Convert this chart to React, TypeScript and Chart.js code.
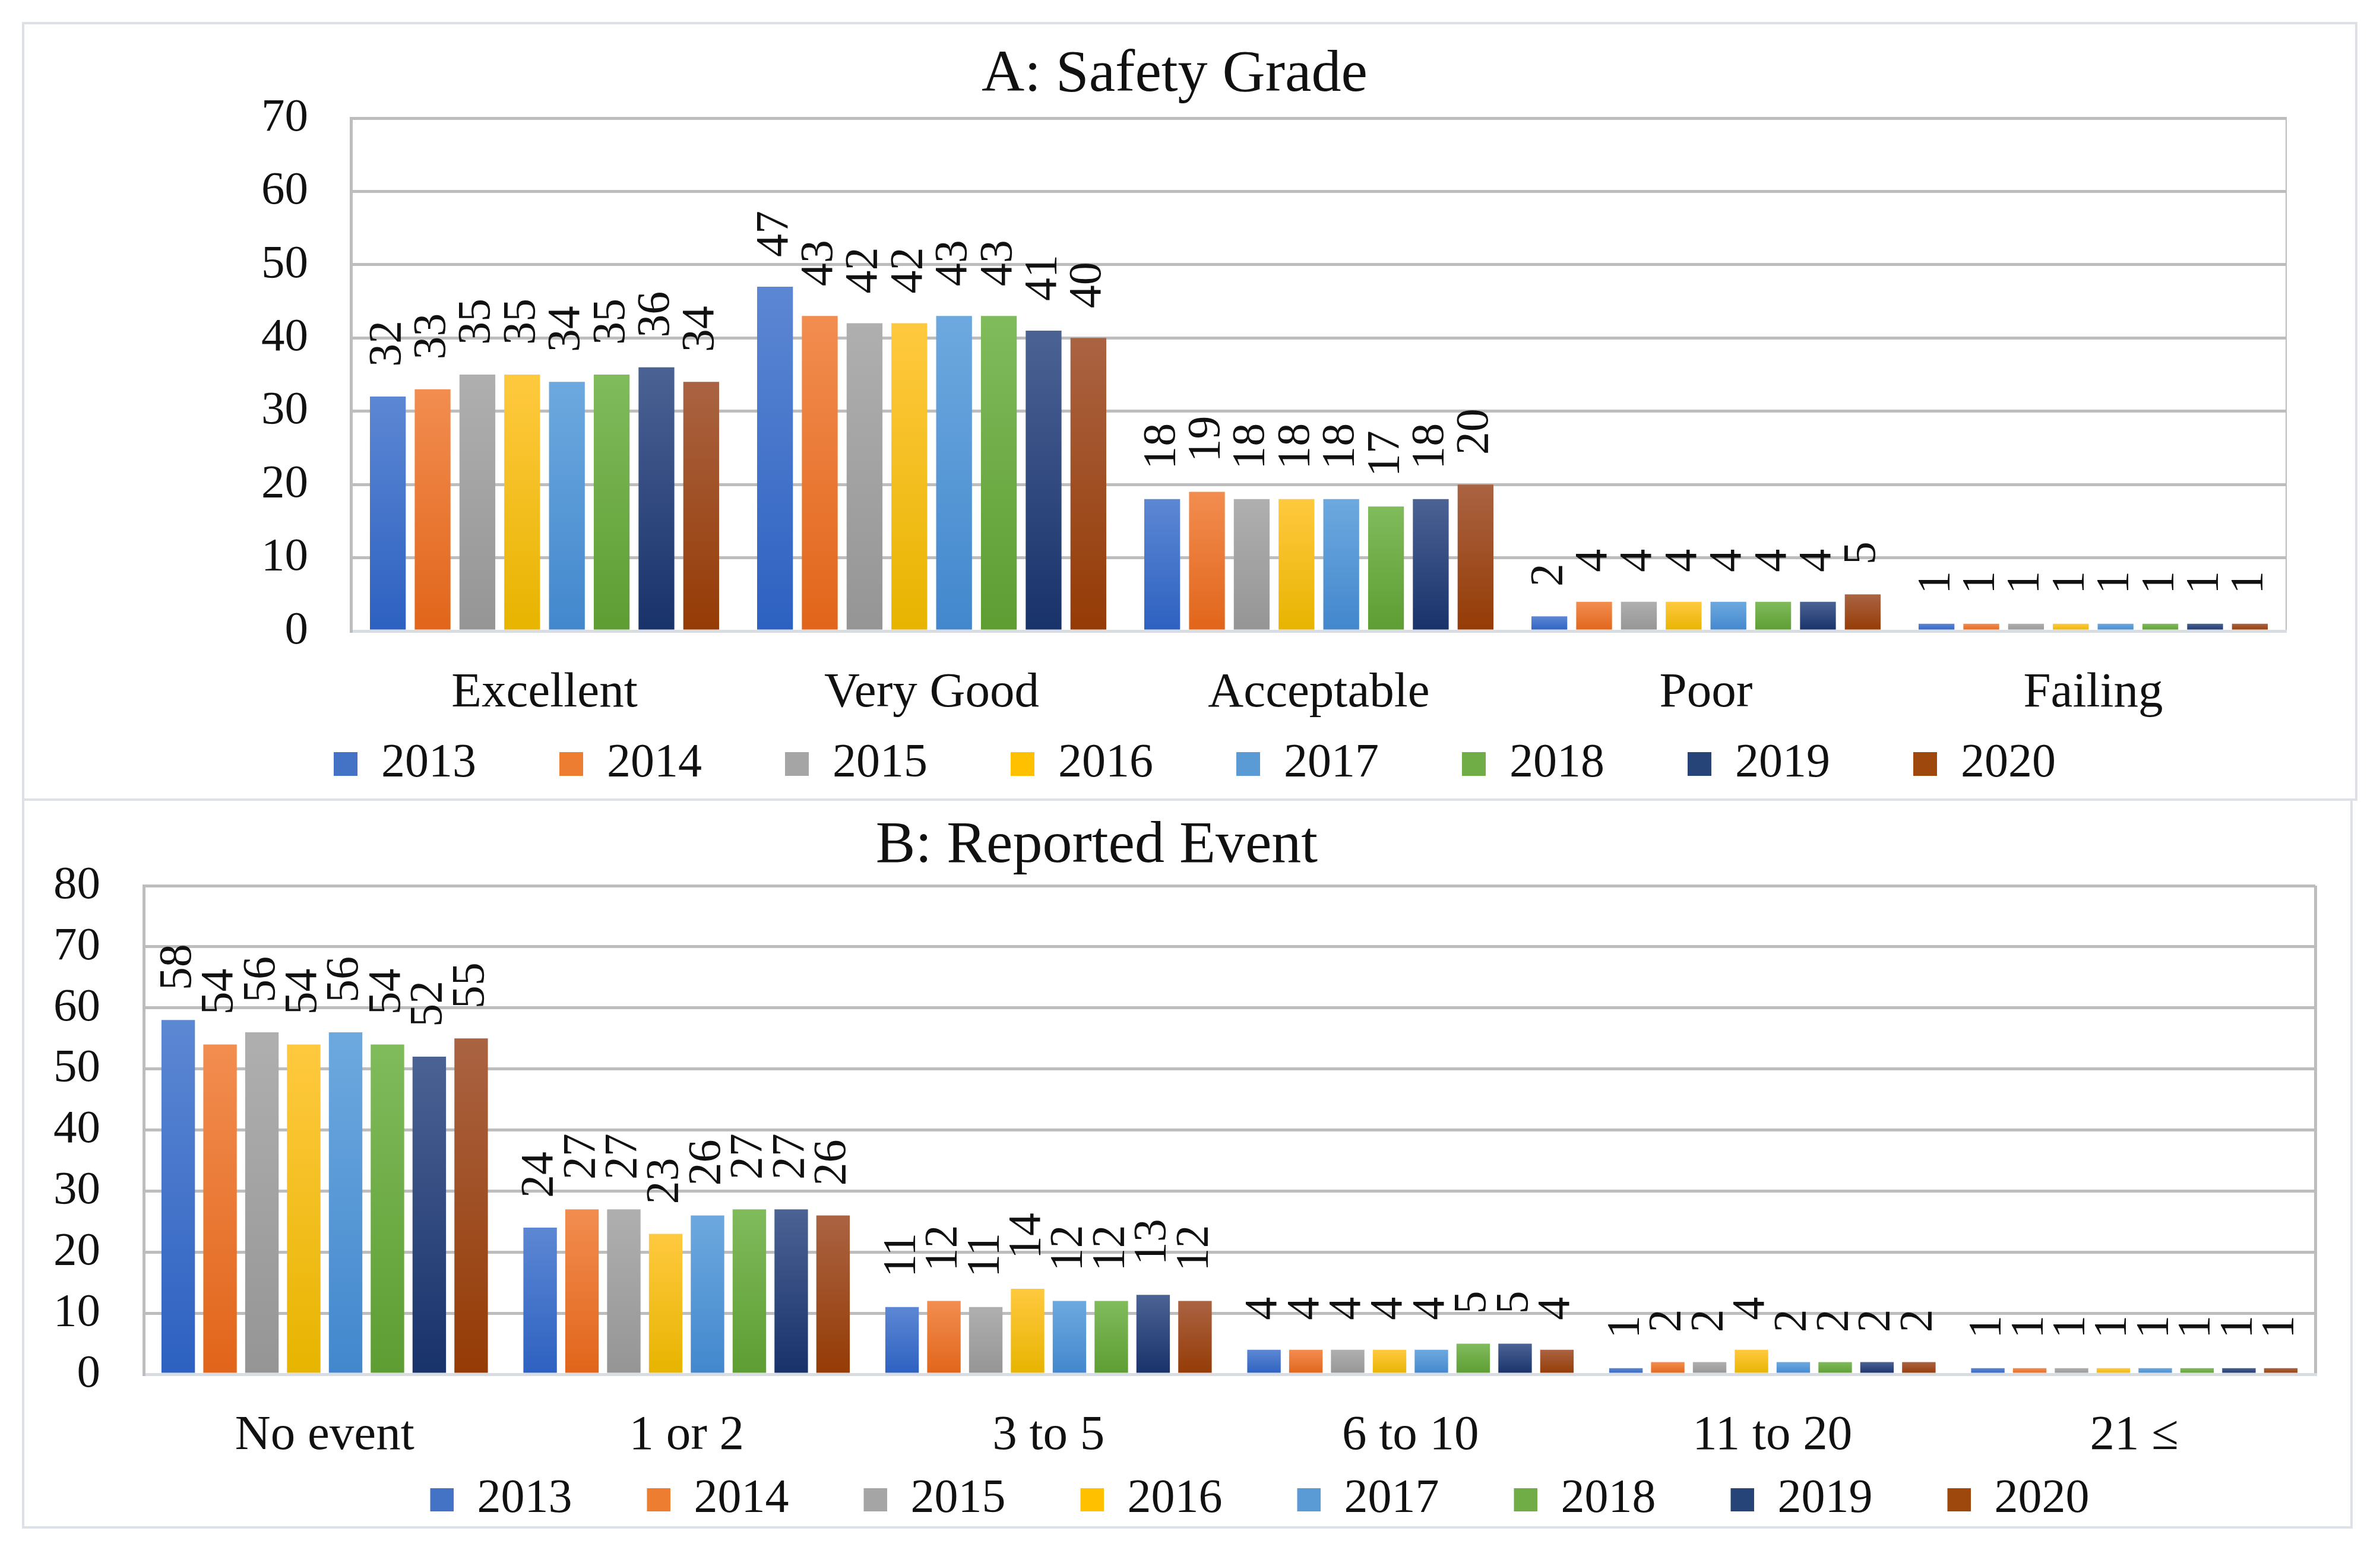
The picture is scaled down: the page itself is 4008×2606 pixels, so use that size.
import React, { useEffect, useRef } from "react";
import { Chart, registerables } from "chart.js";

Chart.register(...registerables);

// ---------- data ----------
const years = ["2013", "2014", "2015", "2016", "2017", "2018", "2019", "2020"];

const safetyCategories = ["Excellent", "Very Good", "Acceptable", "Poor", "Failing"];
const safety2013 = [32, 47, 18, 2, 1];
const safety2014 = [33, 43, 19, 4, 1];
const safety2015 = [35, 42, 18, 4, 1];
const safety2016 = [35, 42, 18, 4, 1];
const safety2017 = [34, 43, 18, 4, 1];
const safety2018 = [35, 43, 17, 4, 1];
const safety2019 = [36, 41, 18, 4, 1];
const safety2020 = [34, 40, 20, 5, 1];
const safetySeries = [safety2013, safety2014, safety2015, safety2016, safety2017, safety2018, safety2019, safety2020];
const safetyMax = 70;
const safetyStep = 10;

const eventCategories = ["No event", "1 or 2", "3 to 5", "6 to 10", "11 to 20", "21 \u2264"];
const event2013 = [58, 24, 11, 4, 1, 1];
const event2014 = [54, 27, 12, 4, 2, 1];
const event2015 = [56, 27, 11, 4, 2, 1];
const event2016 = [54, 23, 14, 4, 4, 1];
const event2017 = [56, 26, 12, 4, 2, 1];
const event2018 = [54, 27, 12, 5, 2, 1];
const event2019 = [52, 27, 13, 5, 2, 1];
const event2020 = [55, 26, 12, 4, 2, 1];
const eventSeries = [event2013, event2014, event2015, event2016, event2017, event2018, event2019, event2020];
const eventMax = 80;
const eventStep = 10;

// ---------- styles ----------
const FONT = '"Liberation Serif", "Times New Roman", serif';
const TEXT = "#111111";
const GRID = "#bdbdbd";
const AXIS = "#d8dce3";
const BORDER = "#dde1e7";

const baseColors = ["#4472C4", "#ED7D31", "#A5A5A5", "#FFC000", "#5B9BD5", "#70AD47", "#264478", "#9E480E"];
const lightColors = ["#5C87D3", "#F28D50", "#AFAFAF", "#FFC93F", "#6DA9DF", "#80BB5C", "#4B6294", "#AA6342"];
const darkColors = ["#2D61C1", "#E1651A", "#959595", "#E7B400", "#4287CD", "#5D9D32", "#18326A", "#953B05"];

function barFill(i: number) {
  return (c: any) => {
    const base = baseColors[i];
    if (!c || c.type !== "data") return base;
    const chart = c.chart;
    const y = chart.scales && chart.scales.y;
    if (!chart.chartArea || !y) return base;
    const top = y.getPixelForValue(c.raw);
    const bottom = y.getPixelForValue(0);
    if (!isFinite(top) || !isFinite(bottom) || Math.abs(bottom - top) < 1) return base;
    const g = chart.ctx.createLinearGradient(0, top, 0, bottom);
    g.addColorStop(0, lightColors[i]);
    g.addColorStop(1, darkColors[i]);
    return g;
  };
}

// legend marker: a square at the right end of a transparent strip
function legendMarker(color: string, stripWidth: number, box: number) {
  const cv = document.createElement("canvas");
  cv.width = stripWidth;
  cv.height = box;
  const cx = cv.getContext("2d");
  if (cx) {
    cx.fillStyle = color;
    cx.fillRect(stripWidth - box, 0, box, box);
  }
  return cv;
}

const valueLabelPlugin = {
  id: "valueLabels",
  afterDatasetsDraw(chart: any, _args: any, opts: any) {
    const ctx = chart.ctx;
    ctx.save();
    ctx.font = `${opts.size}px ${FONT}`;
    ctx.fillStyle = opts.color;
    ctx.textAlign = "left";
    ctx.textBaseline = "middle";
    chart.data.datasets.forEach((ds: any, i: number) => {
      const meta = chart.getDatasetMeta(i);
      if (meta.hidden) return;
      meta.data.forEach((bar: any, j: number) => {
        const v = ds.data[j];
        ctx.save();
        ctx.translate(bar.x, bar.y - opts.offset);
        ctx.rotate(-Math.PI / 2);
        ctx.fillText(String(v), 0, 0);
        ctx.restore();
      });
    });
    ctx.restore();
  },
};

const panelTitlePlugin = {
  id: "panelTitle",
  afterDraw(chart: any, _args: any, opts: any) {
    const ctx = chart.ctx;
    ctx.save();
    ctx.font = `${opts.size}px ${FONT}`;
    ctx.fillStyle = TEXT;
    ctx.textAlign = "center";
    ctx.textBaseline = "alphabetic";
    ctx.fillText(opts.text, opts.x, opts.y);
    ctx.restore();
  },
};

type PanelGeom = {
  left: number;
  top: number;
  width: number;
  height: number;
  canvasW: number;
  canvasH: number;
  padTop: number;
  padBottom: number;
  yWidth: number;
  yPad: number;
  y2Width: number;
  xHeight: number;
  xPad: number;
  legendStrip: number;
  legendBox: number;
  legendPad: number;
  legendMaxH?: number;
  titleX: number;
  titleY: number;
};

function BarPanel(props: {
  title: string;
  categories: string[];
  series: number[][];
  max: number;
  step: number;
  g: PanelGeom;
}) {
  const ref = useRef<HTMLCanvasElement | null>(null);
  const { title, categories, series, max, step, g } = props;

  useEffect(() => {
    if (!ref.current) return;
    const markers = baseColors.map((c) => legendMarker(c, g.legendStrip, g.legendBox));
    const datasets = years.map((yr, i) => ({
      label: yr,
      data: series[i],
      backgroundColor: barFill(i),
      borderWidth: 0,
      categoryPercentage: 0.925,
      barPercentage: 0.8,
    }));
    const legendOpts: any = {
      display: true,
      position: "bottom",
      labels: {
        color: TEXT,
        font: { family: FONT, size: 80 },
        usePointStyle: true,
        pointStyleWidth: g.legendStrip,
        boxHeight: g.legendBox,
        padding: g.legendPad,
        generateLabels: (chart: any) =>
          chart.data.datasets.map((ds: any, i: number) => ({
            text: ds.label,
            fillStyle: baseColors[i],
            strokeStyle: baseColors[i],
            lineWidth: 0,
            hidden: false,
            datasetIndex: i,
            pointStyle: markers[i],
            fontColor: TEXT,
          })),
      },
    };
    if (g.legendMaxH) legendOpts.maxHeight = g.legendMaxH;

    const chart = new Chart(ref.current, {
      type: "bar",
      data: { labels: categories, datasets },
      plugins: [valueLabelPlugin, panelTitlePlugin],
      options: {
        responsive: false,
        animation: false,
        devicePixelRatio: 1,
        events: [],
        layout: { padding: { left: 0, right: 0, top: g.padTop, bottom: g.padBottom } },
        scales: {
          x: {
            type: "category",
            offset: true,
            grid: {
              display: true,
              drawTicks: false,
              offset: true,
              lineWidth: 5,
              color: (c: any) => (c.tick ? "transparent" : GRID),
            },
            border: { display: true, color: AXIS, width: 5 },
            ticks: {
              color: TEXT,
              font: { family: FONT, size: 83 },
              padding: g.xPad,
              maxRotation: 0,
              autoSkip: false,
            },
            afterFit: (s: any) => {
              s.height = g.xHeight;
            },
          },
          y: {
            type: "linear",
            position: "left",
            min: 0,
            max: max,
            grid: {
              display: true,
              drawTicks: false,
              lineWidth: 5,
              color: (c: any) => (c.tick && c.tick.value === 0 ? "transparent" : GRID),
            },
            border: { display: true, color: GRID, width: 5 },
            ticks: {
              stepSize: step,
              color: TEXT,
              font: { family: FONT, size: 79 },
              padding: g.yPad,
            },
            afterFit: (s: any) => {
              s.width = g.yWidth;
            },
          },
          y2: {
            type: "linear",
            position: "right",
            display: true,
            grid: { display: false },
            border: { display: false },
            ticks: { display: false },
            afterFit: (s: any) => {
              s.width = g.y2Width;
            },
          },
        },
        plugins: {
          legend: legendOpts,
          title: { display: false },
          tooltip: { enabled: false },
          valueLabels: { size: 78, color: TEXT, offset: 50 },
          panelTitle: { text: title, size: 100, x: g.titleX, y: g.titleY },
        } as any,
      } as any,
    });
    return () => chart.destroy();
  }, []);

  return (
    <div
      style={{
        position: "absolute",
        left: g.left,
        top: g.top,
        width: g.width,
        height: g.height,
        border: `4px solid ${BORDER}`,
        boxSizing: "border-box",
        overflow: "hidden",
        background: "#ffffff",
      }}
    >
      <canvas
        ref={ref}
        width={g.canvasW}
        height={g.canvasH}
        style={{ display: "block", width: g.canvasW, height: g.canvasH }}
      />
    </div>
  );
}

const geomA: PanelGeom = {
  left: 37,
  top: 37,
  width: 3933,
  height: 1312,
  canvasW: 3810,
  canvasH: 1304,
  padTop: 158,
  padBottom: 8,
  yWidth: 550,
  yPad: 72,
  y2Width: 0,
  xHeight: 176,
  xPad: 55,
  legendStrip: 172,
  legendBox: 40,
  legendPad: 8,
  titleX: 1937,
  titleY: 112,
};

const geomB: PanelGeom = {
  left: 37,
  top: 1345,
  width: 3925,
  height: 1230,
  canvasW: 4043,
  canvasH: 1222,
  padTop: 143,
  padBottom: 0,
  yWidth: 201,
  yPad: 73,
  y2Width: 185,
  xHeight: 163,
  xPad: 54,
  legendStrip: 157,
  legendBox: 39,
  legendPad: 8,
  legendMaxH: 93,
  titleX: 1806,
  titleY: 103,
};

export default function App() {
  return (
    <div
      style={{
        position: "absolute",
        left: 0,
        top: 0,
        width: 4008,
        height: 2606,
        background: "#ffffff",
        overflow: "hidden",
      }}
    >
      <BarPanel
        title="A: Safety Grade"
        categories={safetyCategories}
        series={safetySeries}
        max={safetyMax}
        step={safetyStep}
        g={geomA}
      />
      <BarPanel
        title="B: Reported Event"
        categories={eventCategories}
        series={eventSeries}
        max={eventMax}
        step={eventStep}
        g={geomB}
      />
    </div>
  );
}
